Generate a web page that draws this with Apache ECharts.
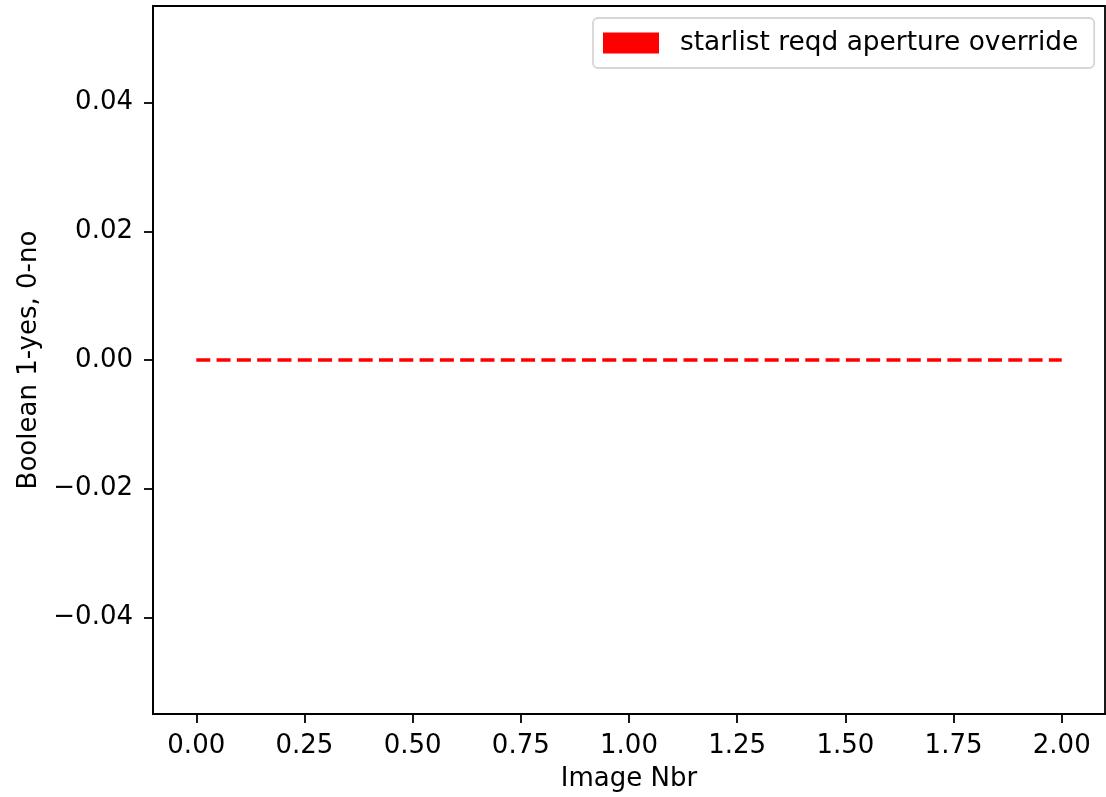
<!DOCTYPE html>
<html>
<head>
<meta charset="utf-8">
<script src="https://cdn.jsdelivr.net/npm/echarts@6/dist/echarts.min.js"></script>
<style>
html,body{margin:0;padding:0;background:#fff;}
#chart{width:1106px;height:797px;}
</style>
</head>
<body>
<div id="chart"></div>
<script>
const seriesName = 'starlist reqd aperture override';
const xValues = [0, 1, 2];
const yValues = [0, 0, 0];
const xTicks = [0, 0.25, 0.5, 0.75, 1.0, 1.25, 1.5, 1.75, 2.0];
const yTicks = [-0.04, -0.02, 0, 0.02, 0.04];
const xLabel = 'Image Nbr';
const yLabel = 'Boolean 1-yes, 0-no';

const FONT = 'DejaVu Sans';
const FS = 26;
const fmt = v => {
  const s = Math.abs(v).toFixed(2);
  return (v < -1e-9 ? '\u2212' : '') + s;
};

const chart = echarts.init(document.getElementById('chart'), null, {renderer: 'canvas'});
chart.setOption({
  animation: false,
  backgroundColor: '#fff',
  grid: {
    left: 153, right: 1, top: 6, bottom: 82,
    show: true, borderColor: '#000', borderWidth: 1.8,
    containLabel: false
  },
  legend: {
    show: true,
    data: [seriesName],
    left: 593, top: 18,
    icon: 'rect',
    itemWidth: 56, itemHeight: 21,
    padding: [12, 16, 12, 10],
    borderColor: '#d6d6d6', borderWidth: 1.8, borderRadius: 5,
    backgroundColor: '#fff',
    itemStyle: {color: '#ff0000', borderWidth: 0},
    textStyle: {fontFamily: FONT, fontSize: 26.4, color: '#000', padding: [0, 0, 0, 16]}
  },
  xAxis: {
    type: 'value', min: -0.1, max: 2.1,
    name: xLabel, nameLocation: 'middle', nameGap: 52,
    nameTextStyle: {fontFamily: FONT, fontSize: FS, color: '#000'},
    splitLine: {show: false},
    axisLine: {show: true, onZero: false, lineStyle: {color: '#000', width: 1.8}},
    axisTick: {show: true, length: 9, customValues: xTicks, lineStyle: {color: '#000', width: 1.8}},
    axisLabel: {customValues: xTicks, margin: 19, fontFamily: FONT, fontSize: FS, color: '#000', formatter: fmt}
  },
  yAxis: {
    type: 'value', min: -0.055, max: 0.055,
    name: yLabel, nameLocation: 'middle', nameGap: 110,
    nameTextStyle: {fontFamily: FONT, fontSize: FS, color: '#000'},
    splitLine: {show: false},
    axisLine: {show: true, onZero: false, lineStyle: {color: '#000', width: 1.8}},
    axisTick: {show: true, length: 9, customValues: yTicks, lineStyle: {color: '#000', width: 1.8}},
    axisLabel: {customValues: yTicks, margin: 20, fontFamily: FONT, fontSize: FS, color: '#000', formatter: fmt}
  },
  series: [{
    name: seriesName,
    type: 'line',
    data: xValues.map((x, i) => [x, yValues[i]]),
    showSymbol: false,
    symbol: 'none',
    itemStyle: {color: '#ff0000'},
    lineStyle: {color: '#ff0000', width: 3.6, type: [14, 6.3]}
  }]
});
</script>
</body>
</html>
